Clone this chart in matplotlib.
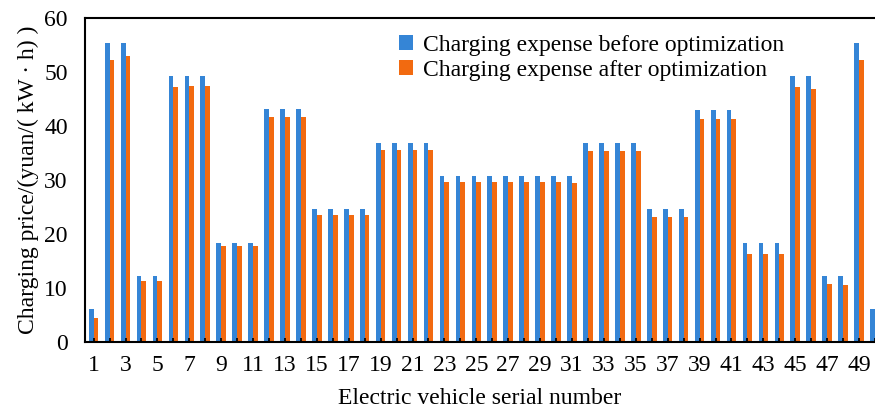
import numpy as np
import matplotlib.pyplot as plt

plt.rcParams['font.family'] = ['Liberation Serif', 'DejaVu Serif']

# vehicle serial numbers 1..50
vehicles = np.arange(1, 51)

before = [6.0, 55.3, 55.3, 12.1, 12.1, 49.1, 49.1, 49.1, 18.3, 18.3,
          18.3, 43.0, 43.0, 43.0, 24.5, 24.5, 24.5, 24.5, 36.8, 36.8,
          36.8, 36.8, 30.7, 30.7, 30.7, 30.7, 30.7, 30.7, 30.7, 30.7,
          30.7, 36.8, 36.8, 36.8, 36.8, 24.5, 24.5, 24.5, 42.9, 42.9,
          42.9, 18.3, 18.3, 18.3, 49.1, 49.1, 12.1, 12.1, 55.3, 6.0]

after = [4.3, 52.1, 52.8, 11.2, 11.2, 47.2, 47.4, 47.4, 17.6, 17.6,
         17.6, 41.5, 41.5, 41.5, 23.5, 23.5, 23.5, 23.5, 35.4, 35.4,
         35.4, 35.4, 29.5, 29.5, 29.5, 29.5, 29.5, 29.5, 29.5, 29.5,
         29.3, 35.3, 35.3, 35.3, 35.3, 23.1, 23.1, 23.1, 41.3, 41.3,
         41.3, 16.2, 16.2, 16.2, 47.2, 46.8, 10.7, 10.4, 52.1, 4.3]

tick_labels = [str(v) if v % 2 == 1 else "" for v in vehicles]

blue = "#3585d6"
orange = "#f26a10"


def run():
    fig = plt.figure(figsize=(8.75, 4.09), dpi=100)
    ax = fig.add_axes([0.0966, 0.165, 0.9034, 0.792])

    w = 0.3
    ax.bar(vehicles - w / 2, before, width=w, color=blue,
           label="Charging expense before optimization")
    ax.bar(vehicles + w / 2, after, width=w, color=orange,
           label="Charging expense after optimization")

    ax.set_xlim(0.43, 49.8)
    ax.set_ylim(0, 60)
    ax.set_yticks(np.arange(0, 61, 10))
    ax.set_xticks(vehicles)
    ax.set_xticklabels(tick_labels)

    ax.tick_params(axis="x", direction="in", length=3, width=1.2, labelsize=17, pad=10)
    ax.tick_params(axis="y", direction="in", length=0, labelsize=17, pad=12)

    for s in ["left", "bottom", "top"]:
        ax.spines[s].set_linewidth(1.5)
    ax.spines["right"].set_visible(False)

    ax.set_xlabel("Electric vehicle serial number", fontsize=17, labelpad=8)
    ax.set_ylabel("Charging price/(yuan/( kW · h) )", fontsize=17, labelpad=4)

    ax.legend(loc="upper left", bbox_to_anchor=(0.386, 0.975), frameon=False,
              fontsize=17, handlelength=0.6, handleheight=0.6,
              handletextpad=0.4, labelspacing=0.15, borderaxespad=0)

    fig.savefig("out.png", dpi=100)


if __name__ == "__main__":
    run()
